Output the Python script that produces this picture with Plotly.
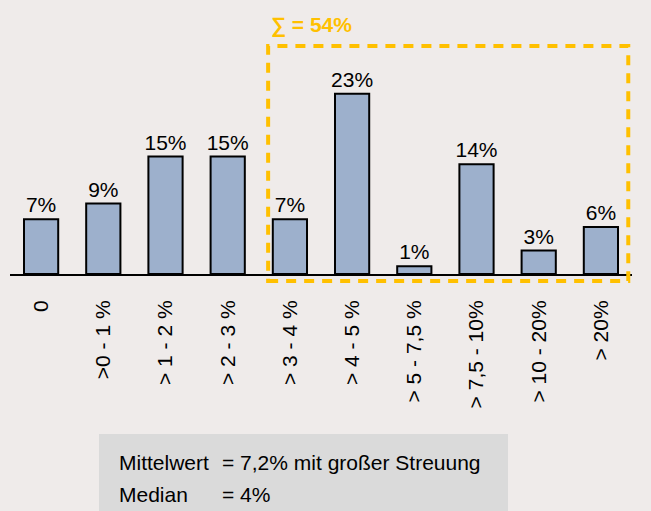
import plotly.graph_objects as go

# Verteilung der Renditen nach Klassen
categories = ["0", ">0 - 1 %", "> 1 - 2 %", "> 2 - 3 %", "> 3 - 4 %", "> 4 - 5 %",
              "> 5 - 7,5 %", "> 7,5 - 10%", "> 10 - 20%", "> 20%"]
shares = [7, 9, 15, 15, 7, 23, 1, 14, 3, 6]
sum_label = "∑ = 54%"
stats_names = ["Mittelwert", "Median"]
stats_values = ["= 7,2% mit großer Streuung", "= 4%"]

BG = "#EFEBEA"
BAR = "#9DB0CC"
GOLD = "#FFC000"
FONT = "Liberation Sans, Arial, sans-serif"

fig = go.Figure(go.Bar(
    x=categories,
    y=shares,
    width=0.55,
    marker=dict(color=BAR, line=dict(color="black", width=2)),
    texttemplate="%{y}%",
    textposition="outside",
    constraintext="none",
    textfont=dict(size=21, color="black", family=FONT),
    cliponaxis=False,
))

# gestrichelter Rahmen um die Klassen ab > 3 %
fig.add_shape(type="rect", xref="x", yref="paper",
              x0=3.65, x1=9.44, y0=-0.03, y1=0.97,
              line=dict(color=GOLD, width=4, dash="10px,8px"),
              fillcolor="rgba(0,0,0,0)", layer="above")
fig.add_annotation(text=f"<b>{sum_label}</b>", xref="x", yref="paper",
                   x=3.67, y=(274 - 25) / 235, xanchor="left", yanchor="middle",
                   showarrow=False, font=dict(size=21, color=GOLD, family=FONT))

# Kennzahlen-Kasten unten
fig.add_shape(type="rect", xref="paper", yref="paper",
              x0=(99 - 10) / 622, x1=(508 - 10) / 622,
              y0=(274 - 511) / 235, y1=(274 - 434) / 235,
              line=dict(width=0), fillcolor="#DADADA", layer="below")
for i, (name, val) in enumerate(zip(stats_names, stats_values)):
    ypos = (274 - (462 + 32 * i)) / 235
    fig.add_annotation(text=name, xref="paper", yref="paper",
                       x=(117 - 10) / 622, y=ypos, xanchor="left", yanchor="middle",
                       showarrow=False, font=dict(size=21, color="black", family=FONT))
    fig.add_annotation(text=val, xref="paper", yref="paper",
                       x=(220 - 10) / 622, y=ypos, xanchor="left", yanchor="middle",
                       showarrow=False, font=dict(size=21, color="black", family=FONT))

fig.update_layout(
    width=651, height=511,
    margin=dict(l=10, r=19, t=39, b=237),
    paper_bgcolor=BG, plot_bgcolor=BG,
    showlegend=False,
    bargap=0.45,
)
fig.update_xaxes(
    type="category",
    showline=True, linecolor="black", linewidth=2,
    showgrid=False, tickangle=-90,
    ticks="outside", ticklen=0, ticklabelstandoff=16,
    tickfont=dict(size=21, color="black", family=FONT),
)
fig.update_yaxes(range=[0, 30], visible=False, showgrid=False, zeroline=False)

fig.write_html("out.html")
